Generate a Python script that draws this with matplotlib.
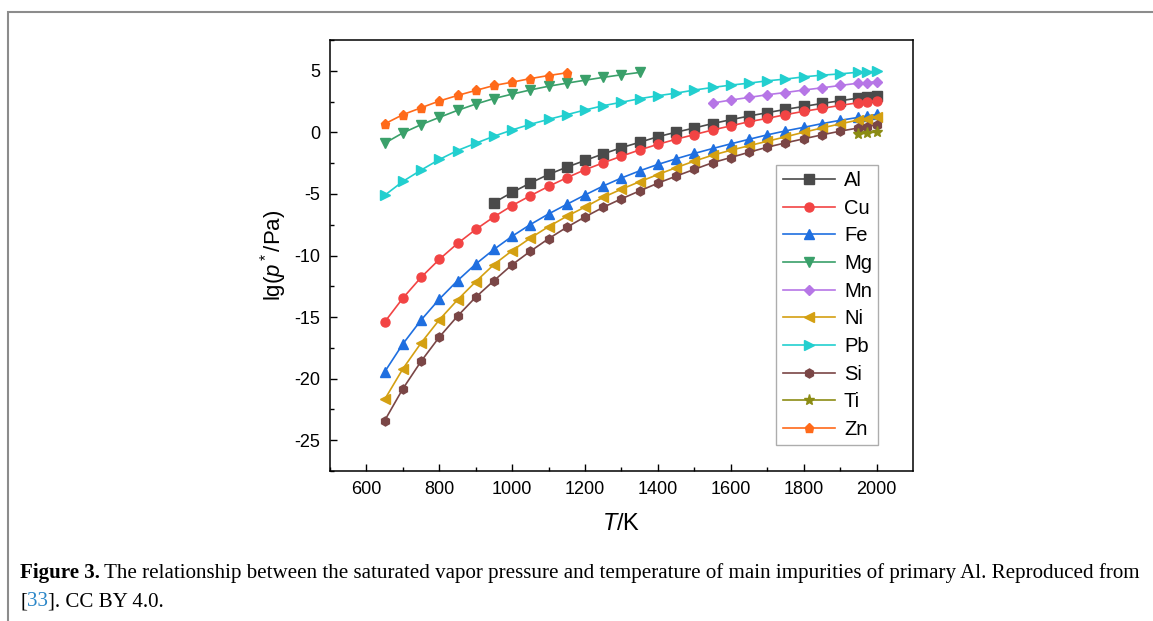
import numpy as np
import matplotlib as mpl
import matplotlib.pyplot as plt
from matplotlib.patches import Rectangle

plt.rcParams['font.family'] = ['Liberation Sans', 'DejaVu Sans']
plt.rcParams['mathtext.fontset'] = 'custom'
plt.rcParams['mathtext.rm'] = 'Liberation Sans'
plt.rcParams['mathtext.it'] = 'Liberation Sans:italic'
plt.rcParams['axes.unicode_minus'] = False

# temperatures (K)
T_full = [650, 700, 750, 800, 850, 900, 950, 1000, 1050, 1100, 1150, 1200, 1250, 1300,
          1350, 1400, 1450, 1500, 1550, 1600, 1650, 1700, 1750, 1800, 1850, 1900,
          1950, 1975, 2000]
T_al = T_full[6:]
T_mg = T_full[:15]
T_mn = T_full[18:]
T_ti = T_full[26:]
T_zn = T_full[:11]

# lg(p*/Pa)
al = [-5.70, -4.87, -4.11, -3.41, -2.82, -2.28, -1.74, -1.24, -0.80, -0.35, 0.02, 0.36,
      0.72, 1.03, 1.33, 1.60, 1.87, 2.11, 2.35, 2.57, 2.79, 2.89, 2.98]
cu = [-15.40, -13.46, -11.77, -10.31, -9.02, -7.88, -6.86, -5.94, -5.14, -4.38, -3.68,
      -3.03, -2.47, -1.93, -1.42, -0.97, -0.55, -0.18, 0.20, 0.53, 0.87, 1.14, 1.44,
      1.71, 1.95, 2.19, 2.41, 2.49, 2.57]
fe = [-19.45, -17.18, -15.24, -13.54, -12.04, -10.69, -9.50, -8.43, -7.48, -6.62, -5.84,
      -5.08, -4.35, -3.70, -3.12, -2.60, -2.14, -1.71, -1.31, -0.93, -0.56, -0.20, 0.12,
      0.41, 0.71, 0.98, 1.22, 1.33, 1.46]
mg = [-0.88, -0.04, 0.63, 1.22, 1.79, 2.30, 2.75, 3.11, 3.45, 3.75, 4.00, 4.24, 4.47,
      4.68, 4.87]
mn = [2.38, 2.63, 2.84, 3.06, 3.24, 3.44, 3.62, 3.81, 4.00, 4.05, 4.13]
ni = [-21.69, -19.20, -17.10, -15.22, -13.60, -12.12, -10.73, -9.60, -8.58, -7.65, -6.81,
      -6.06, -5.27, -4.61, -4.00, -3.42, -2.86, -2.33, -1.85, -1.45, -1.08, -0.72, -0.36,
      0.01, 0.36, 0.69, 1.01, 1.12, 1.26]
pb = [-5.11, -3.98, -3.06, -2.20, -1.47, -0.88, -0.31, 0.20, 0.66, 1.06, 1.44, 1.82,
      2.17, 2.45, 2.74, 2.98, 3.19, 3.44, 3.65, 3.84, 4.00, 4.19, 4.33, 4.51, 4.65,
      4.75, 4.89, 4.92, 4.97]
si = [-23.41, -20.82, -18.59, -16.62, -14.92, -13.38, -12.04, -10.74, -9.65, -8.63,
      -7.70, -6.86, -6.08, -5.39, -4.75, -4.12, -3.55, -3.00, -2.46, -2.04, -1.61, -1.20,
      -0.85, -0.52, -0.20, 0.10, 0.36, 0.47, 0.61]
ti = [-0.15, -0.05, 0.03]
zn = [0.69, 1.44, 2.00, 2.55, 3.00, 3.41, 3.81, 4.08, 4.37, 4.62, 4.84]

series = [
    ("Al", T_al, al, '#4a4a4a', 's'),
    ("Cu", T_full, cu, '#f24444', 'o'),
    ("Fe", T_full, fe, '#1f6fe0', '^'),
    ("Mg", T_mg, mg, '#3aa06a', 'v'),
    ("Mn", T_mn, mn, '#b676e6', 'D'),
    ("Ni", T_full, ni, '#d4a012', '<'),
    ("Pb", T_full, pb, '#22cfcf', '>'),
    ("Si", T_full, si, '#7a4646', 'h'),
    ("Ti", T_ti, ti, '#8c8c14', '*'),
    ("Zn", T_zn, zn, '#ff6a1a', 'p'),
]

fig = plt.figure(figsize=(11.53, 6.21), dpi=100)
ax = fig.add_axes([0.2862, 0.2415, 0.5056, 0.694])

for name, t, v, c, m in series:
    ms = 6.5
    if m == 'D':
        ms = 5.2
    if m == '*':
        ms = 8
    ax.plot(t, v, color=c, marker=m, ms=ms, lw=1.2, label=name)

ax.set_xlim(500, 2100)
ax.set_ylim(-27.5, 7.5)
ax.set_xticks(np.arange(600, 2001, 200))
ax.set_xticks(np.arange(500, 2100, 100), minor=True)
ax.set_yticks(np.arange(-25, 6, 5))
ax.set_yticks(np.arange(-27.5, 7.6, 2.5), minor=True)
ax.tick_params(which='both', direction='in', top=False, right=False, labelsize=13)
ax.tick_params(which='major', length=5, width=1, pad=7)
ax.tick_params(which='minor', length=3, width=1)
for s in ax.spines.values():
    s.set_linewidth(1.1)

ax.set_xlabel(r'$\it{T}$/K', fontsize=17, labelpad=11)
ax.set_ylabel(r'lg($\it{p}^*$/Pa)', fontsize=16, labelpad=4)

leg = ax.legend(loc='upper right', bbox_to_anchor=(0.94, 0.71), borderaxespad=0,
                fontsize=14.5, handlelength=2.6, handletextpad=0.45, labelspacing=0.43,
                fancybox=False, edgecolor='#999999', borderpad=0.3)
leg.get_frame().set_linewidth(1.0)

# outer grey frame
fig.patches.append(Rectangle((8 / 1153, -0.1), 1.2, (609 / 621) + 0.1,
                             transform=fig.transFigure, fill=False,
                             edgecolor='#8c8c8c', lw=1.5))

# caption
renderer = fig.canvas.get_renderer()
cap_kw = dict(family='Liberation Serif', fontsize=15.1, va='baseline')


def put(x, y, s, **kw):
    t = fig.text(x / 1153, 1 - y / 621, s, **cap_kw, **kw)
    bb = t.get_window_extent(renderer)
    return x + bb.width


x = put(20, 578, 'Figure 3.', weight='bold')
put(x + 4, 578, 'The relationship between the saturated vapor pressure and temperature '
    'of main impurities of primary Al. Reproduced from')
x = put(20, 606, '[')
x = put(x, 606, '33', color='#2a86c8')
put(x, 606, ']. CC BY 4.0.')

fig.savefig('out.png', dpi=100)
